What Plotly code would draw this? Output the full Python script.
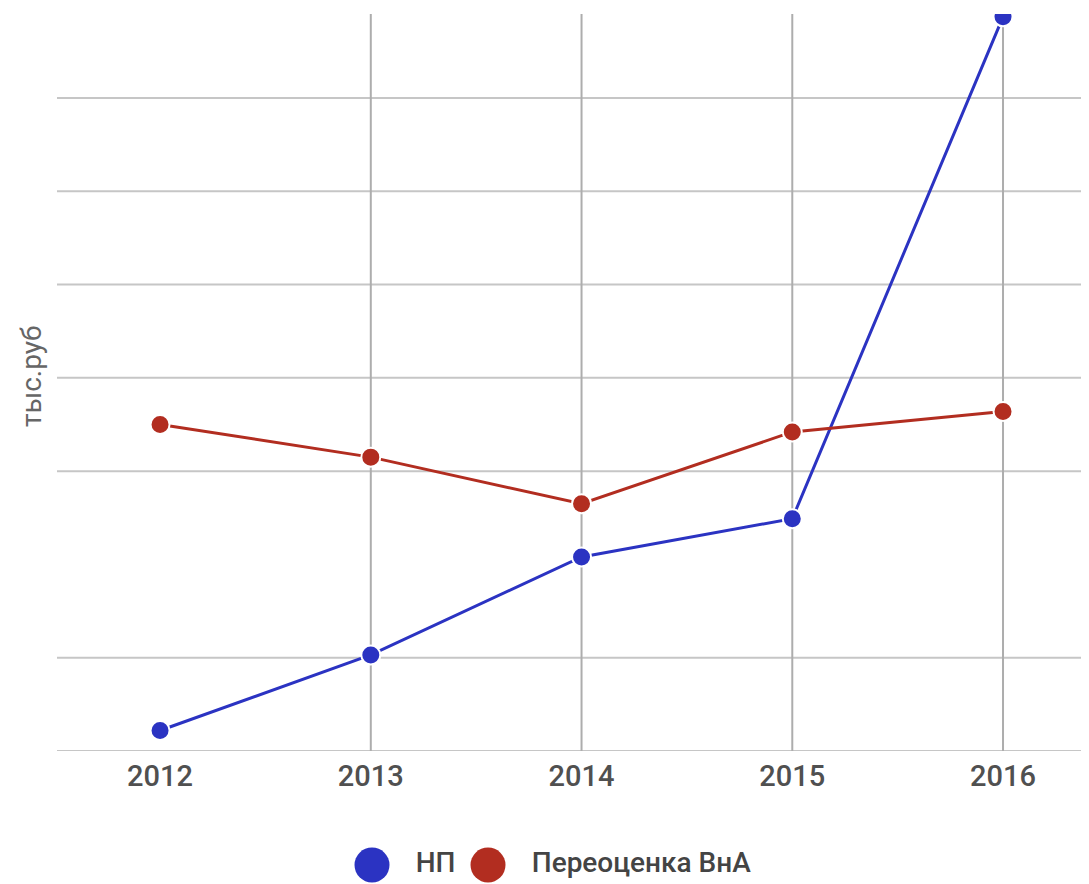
import plotly.graph_objects as go

# data (units: one gridline step = 100)
years = [2012, 2013, 2014, 2015, 2016]
np_values = [22, 103, 208, 249, 787]
revaluation = [350, 315, 265, 342, 364]
grid_values = [0, 100, 300, 400, 500, 600, 700]  # no gridline at 200 in the source
y_top = 790

series_names = ["НП", "Переоценка ВнА"]
series_colors = ["#2B33C2", "#B22D20"]

# page has an 8px body margin, so the figure is placed at (8, 8)
OFF = 8
W, H = 1089 - OFF, 884 - OFF
L, T = 57 - OFF, 14 - OFF
plot_bottom = 751  # screen row of the x baseline


def py(px):
    # screen row -> paper y
    return (884 - px) / (884 - 14)


def pxx(px):
    # screen column -> paper x
    return (px - 57) / (1089 - 57)


fig = go.Figure()

for name, vals, color in zip(series_names, [np_values, revaluation], series_colors):
    fig.add_trace(go.Scatter(
        x=years, y=vals, name=name, mode="lines+markers",
        line=dict(color=color, width=3),
        marker=dict(color=color, size=19, line=dict(color="white", width=2)),
        showlegend=False,
    ))

# large legend circles + text, drawn on a helper axis below the plot
fig.add_trace(go.Scatter(
    x=[372, 488], y=[0, 0], mode="markers+text",
    text=["   " + n for n in series_names], textposition="middle right",
    textfont=dict(size=28, color="#444", weight=500),
    marker=dict(color=series_colors, size=35),
    xaxis="x2", yaxis="y2", showlegend=False, hoverinfo="skip", cliponaxis=False,
))

shapes = []
# horizontal gridlines
for v in grid_values:
    shapes.append(dict(type="line", xref="paper", x0=0, x1=1, yref="y", y0=v, y1=v,
                       line=dict(color="#C6C6C6", width=2), layer="below"))
# vertical gridlines (none at the first year)
for yr in years[1:]:
    shapes.append(dict(type="line", xref="x", x0=yr, x1=yr, yref="y", y0=0, y1=y_top,
                       line=dict(color="#ADADAD", width=2), layer="below"))

fig.update_layout(
    width=W, height=H,
    margin=dict(l=L, r=0, t=T, b=0),
    plot_bgcolor="white", paper_bgcolor="white",
    font=dict(family="Roboto", color="#555"),
    shapes=shapes,
    xaxis=dict(range=[2011.511, 2016.408], tickvals=years, ticktext=[str(y) for y in years],
               showgrid=False, zeroline=False, showline=False, ticks="",
               ticklabelstandoff=5,
               tickfont=dict(size=29, color="#505050", weight=500), anchor="y"),
    yaxis=dict(domain=[py(plot_bottom), 1], range=[0, y_top], showgrid=False,
               zeroline=False, showticklabels=False, showline=False, anchor="x"),
    xaxis2=dict(domain=[0, 1], range=[57, 1089], visible=False, anchor="y2", fixedrange=True),
    yaxis2=dict(domain=[py(884), py(846)], range=[-1, 1], visible=False, anchor="x2"),
    annotations=[dict(text="тыс.руб", textangle=-90, xref="paper", yref="paper",
                      x=pxx(31), y=py(376), xanchor="center", yanchor="middle",
                      showarrow=False, font=dict(size=28, color="#666"))],
)

fig.write_html("out.html")
